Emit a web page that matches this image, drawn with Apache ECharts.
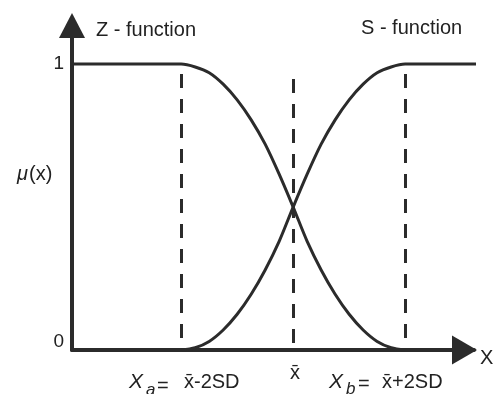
<!DOCTYPE html>
<html>
<head>
<meta charset="utf-8">
<script src="https://cdn.jsdelivr.net/npm/echarts@6/dist/echarts.min.js"></script>
<style>
  html, body { margin: 0; padding: 0; background: #fff; }
  #chart_content { width: 494px; height: 394px; }
</style>
</head>
<body>
<div id="chart_content"></div>
<script>
// axis ranges (x in SD units around the mean)
const xRange = [-3.95, 3.23];
const yRange = [0, 1.135];
const yTicks = [0, 1];

// Z - function
const zX = [-3.95, -2.0, -1.75, -1.5, -1.25, -1.0, -0.75, -0.5, -0.25, 0, 0.25, 0.5, 0.75, 1.0, 1.25, 1.5, 1.75, 2.0];
const zY = [1, 1, 0.99, 0.97, 0.93, 0.875, 0.805, 0.72, 0.615, 0.5, 0.38, 0.28, 0.195, 0.125, 0.07, 0.03, 0.008, 0];

// S - function
const sX = [-2.0, -1.75, -1.5, -1.25, -1.0, -0.75, -0.5, -0.25, 0, 0.25, 0.5, 0.75, 1.0, 1.25, 1.5, 1.75, 2.0, 3.34];
const sY = [0, 0.008, 0.03, 0.07, 0.125, 0.195, 0.28, 0.38, 0.5, 0.615, 0.72, 0.805, 0.875, 0.93, 0.97, 0.99, 1, 1];

// dashed marker lines: Xa, mean, Xb
const markerX = [-2, 0, 2];
const markerTop = [0.965, 0.948, 0.965];

const ink = '#2b2b2b';
const font = "'Liberation Sans', Arial, sans-serif";

let fuzzyChart = {
    __dom: null,
    __chart: null,
    __option: {},
    initChart: function () {
        this.__dom = document.getElementById('chart_content');
        this.__chart = echarts.init(this.__dom);

        const pairs = (xs, ys) => xs.map((x, i) => [x, ys[i]]);
        const curveStyle = { color: ink, width: 3 };
        const txt = (text, x, y, extra) => ({
            type: 'text',
            style: Object.assign({ text: text, x: x, y: y, fontSize: 20, fontFamily: font, fill: '#222', verticalAlign: 'middle' }, extra || {})
        });

        this.__option = {
            animation: false,
            grid: { left: 72, right: 20, top: 25.5, bottom: 44 },
            xAxis: {
                type: 'value',
                min: xRange[0],
                max: xRange[1],
                axisLine: {
                    onZero: false,
                    symbol: ['none', 'triangle'],
                    symbolSize: [29, 25],
                    symbolOffset: [0, -9.5],
                    lineStyle: { color: ink, width: 4 }
                },
                axisTick: { show: false },
                axisLabel: { show: false },
                splitLine: { show: false }
            },
            yAxis: {
                type: 'value',
                min: yRange[0],
                max: yRange[1],
                axisLine: {
                    show: true,
                    onZero: false,
                    symbol: ['none', 'triangle'],
                    symbolSize: [26, 25],
                    lineStyle: { color: ink, width: 4 }
                },
                axisTick: { show: false },
                splitLine: { show: false },
                axisLabel: {
                    customValues: yTicks,
                    margin: 8,
                    color: '#222',
                    fontSize: 19,
                    fontFamily: font,
                    formatter: function (v) {
                        return v === 0 ? '{lo|0}' : '{hi|' + v + '}';
                    },
                    rich: {
                        lo: { fontSize: 19, fontFamily: font, color: '#222', padding: [0, 0, 16, 0] },
                        hi: { fontSize: 19, fontFamily: font, color: '#222' }
                    }
                }
            },
            series: [
                {
                    name: 'Z - function',
                    type: 'line',
                    data: pairs(zX, zY),
                    smooth: 0.3,
                    symbol: 'none',
                    clip: false,
                    lineStyle: curveStyle
                },
                {
                    name: 'S - function',
                    type: 'line',
                    data: pairs(sX, sY),
                    smooth: 0.3,
                    symbol: 'none',
                    clip: false,
                    lineStyle: curveStyle,
                    markLine: {
                        silent: true,
                        symbol: 'none',
                        label: { show: false },
                        lineStyle: { color: ink, width: 3, type: [14, 11] },
                        data: markerX.map((x, i) => [
                            { coord: [x, markerTop[i]] },
                            { coord: [x, 0] }
                        ])
                    }
                }
            ],
            graphic: [
                txt('Z - function', 96, 30),
                txt('S - function', 361, 28),
                txt('μ', 17, 174, { fontStyle: 'italic' }),
                txt('(x)', 29, 174),
                txt('X', 480, 358),
                txt('x̄', 295, 373, { align: 'center' }),
                // Xa = x̄-2SD
                txt('X', 129, 382, { fontStyle: 'italic', fontSize: 21 }),
                txt('a', 146, 390, { fontStyle: 'italic', fontSize: 17 }),
                txt('=', 157, 386),
                txt('x̄-2SD', 184, 382),
                // Xb = x̄+2SD
                txt('X', 329, 382, { fontStyle: 'italic', fontSize: 21 }),
                txt('b', 346, 389, { fontStyle: 'italic', fontSize: 17 }),
                txt('=', 358, 384),
                txt('x̄+2SD', 382, 382)
            ]
        };
        this.__chart.setOption(this.__option);
    }
};

fuzzyChart.initChart();
</script>
</body>
</html>
